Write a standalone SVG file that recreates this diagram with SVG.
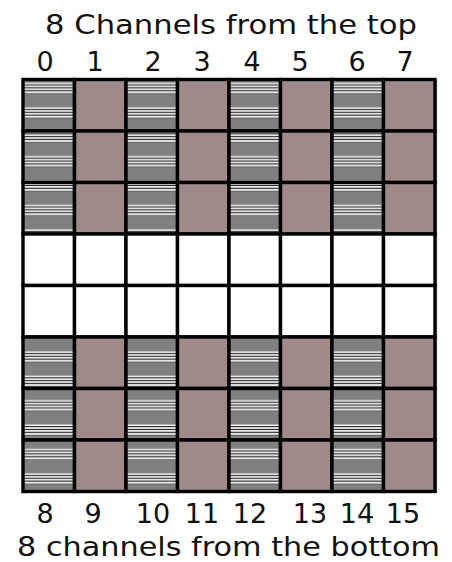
<svg xmlns="http://www.w3.org/2000/svg" width="452" height="562" viewBox="0 0 452 562">
<style>
text{font-family:"DejaVu Sans","Liberation Sans",sans-serif;fill:#111;text-anchor:middle}
.t{font-size:27px}
.n{font-size:27px}
rect.c{stroke:#000;stroke-width:3.4}
.g{fill:url(#stripes)}
.p{fill:#a08989}
.w{fill:#fff}
</style>
<defs>
<pattern id="stripes" patternUnits="userSpaceOnUse" x="0" y="82.5" width="20" height="24.4">
<rect x="0" y="0" width="20" height="24.4" fill="#808080"/>
<rect x="0" y="0" width="20" height="11" fill="#1e1e1e"/>
<rect x="0" y="0.3" width="20" height="1.7" fill="#fafafa"/>
<rect x="0" y="3.1" width="20" height="1.7" fill="#fafafa"/>
<rect x="0" y="5.9" width="20" height="1.7" fill="#fafafa"/>
<rect x="0" y="8.7" width="20" height="2" fill="#e6e6e6"/>
</pattern>
</defs>
<rect width="452" height="562" fill="#fff"/>
<text class="t" x="231" y="34" textLength="372" lengthAdjust="spacingAndGlyphs">8 Channels from the top</text>
<g id="top-labels" class="n">
<text class="n" x="45" y="71">0</text>
<text class="n" x="95" y="71">1</text>
<text class="n" x="153" y="71">2</text>
<text class="n" x="202" y="71">3</text>
<text class="n" x="252" y="71">4</text>
<text class="n" x="300" y="71">5</text>
<text class="n" x="357" y="71">6</text>
<text class="n" x="405" y="71">7</text>
</g>
<line x1="436.5" y1="80" x2="436.5" y2="493" stroke="#bbb" stroke-width="1.5"/>
<g id="grid">
<g id="row0">
<rect class="c g" x="23" y="79.5" width="51.5" height="51.5"/><rect class="c p" x="74.5" y="79.5" width="51.5" height="51.5"/><rect class="c g" x="126" y="79.5" width="51.5" height="51.5"/><rect class="c p" x="177.5" y="79.5" width="51.5" height="51.5"/><rect class="c g" x="229" y="79.5" width="51.5" height="51.5"/><rect class="c p" x="280.5" y="79.5" width="51.5" height="51.5"/><rect class="c g" x="332" y="79.5" width="51.5" height="51.5"/><rect class="c p" x="383.5" y="79.5" width="51.5" height="51.5"/>
</g>
<g id="row1">
<rect class="c g" x="23" y="131" width="51.5" height="51.5"/><rect class="c p" x="74.5" y="131" width="51.5" height="51.5"/><rect class="c g" x="126" y="131" width="51.5" height="51.5"/><rect class="c p" x="177.5" y="131" width="51.5" height="51.5"/><rect class="c g" x="229" y="131" width="51.5" height="51.5"/><rect class="c p" x="280.5" y="131" width="51.5" height="51.5"/><rect class="c g" x="332" y="131" width="51.5" height="51.5"/><rect class="c p" x="383.5" y="131" width="51.5" height="51.5"/>
</g>
<g id="row2">
<rect class="c g" x="23" y="182.5" width="51.5" height="51.5"/><rect class="c p" x="74.5" y="182.5" width="51.5" height="51.5"/><rect class="c g" x="126" y="182.5" width="51.5" height="51.5"/><rect class="c p" x="177.5" y="182.5" width="51.5" height="51.5"/><rect class="c g" x="229" y="182.5" width="51.5" height="51.5"/><rect class="c p" x="280.5" y="182.5" width="51.5" height="51.5"/><rect class="c g" x="332" y="182.5" width="51.5" height="51.5"/><rect class="c p" x="383.5" y="182.5" width="51.5" height="51.5"/>
</g>
<g id="row3">
<rect class="c w" x="23" y="234" width="51.5" height="51.5"/><rect class="c w" x="74.5" y="234" width="51.5" height="51.5"/><rect class="c w" x="126" y="234" width="51.5" height="51.5"/><rect class="c w" x="177.5" y="234" width="51.5" height="51.5"/><rect class="c w" x="229" y="234" width="51.5" height="51.5"/><rect class="c w" x="280.5" y="234" width="51.5" height="51.5"/><rect class="c w" x="332" y="234" width="51.5" height="51.5"/><rect class="c w" x="383.5" y="234" width="51.5" height="51.5"/>
</g>
<g id="row4">
<rect class="c w" x="23" y="285.5" width="51.5" height="51.5"/><rect class="c w" x="74.5" y="285.5" width="51.5" height="51.5"/><rect class="c w" x="126" y="285.5" width="51.5" height="51.5"/><rect class="c w" x="177.5" y="285.5" width="51.5" height="51.5"/><rect class="c w" x="229" y="285.5" width="51.5" height="51.5"/><rect class="c w" x="280.5" y="285.5" width="51.5" height="51.5"/><rect class="c w" x="332" y="285.5" width="51.5" height="51.5"/><rect class="c w" x="383.5" y="285.5" width="51.5" height="51.5"/>
</g>
<g id="row5">
<rect class="c g" x="23" y="337" width="51.5" height="51.5"/><rect class="c p" x="74.5" y="337" width="51.5" height="51.5"/><rect class="c g" x="126" y="337" width="51.5" height="51.5"/><rect class="c p" x="177.5" y="337" width="51.5" height="51.5"/><rect class="c g" x="229" y="337" width="51.5" height="51.5"/><rect class="c p" x="280.5" y="337" width="51.5" height="51.5"/><rect class="c g" x="332" y="337" width="51.5" height="51.5"/><rect class="c p" x="383.5" y="337" width="51.5" height="51.5"/>
</g>
<g id="row6">
<rect class="c g" x="23" y="388.5" width="51.5" height="51.5"/><rect class="c p" x="74.5" y="388.5" width="51.5" height="51.5"/><rect class="c g" x="126" y="388.5" width="51.5" height="51.5"/><rect class="c p" x="177.5" y="388.5" width="51.5" height="51.5"/><rect class="c g" x="229" y="388.5" width="51.5" height="51.5"/><rect class="c p" x="280.5" y="388.5" width="51.5" height="51.5"/><rect class="c g" x="332" y="388.5" width="51.5" height="51.5"/><rect class="c p" x="383.5" y="388.5" width="51.5" height="51.5"/>
</g>
<g id="row7">
<rect class="c g" x="23" y="440" width="51.5" height="51.5"/><rect class="c p" x="74.5" y="440" width="51.5" height="51.5"/><rect class="c g" x="126" y="440" width="51.5" height="51.5"/><rect class="c p" x="177.5" y="440" width="51.5" height="51.5"/><rect class="c g" x="229" y="440" width="51.5" height="51.5"/><rect class="c p" x="280.5" y="440" width="51.5" height="51.5"/><rect class="c g" x="332" y="440" width="51.5" height="51.5"/><rect class="c p" x="383.5" y="440" width="51.5" height="51.5"/>
</g>
</g>
<g id="bottom-labels">
<text class="n" x="45" y="523">8</text>
<text class="n" x="93" y="523">9</text>
<text class="n" x="153" y="523">10</text>
<text class="n" x="202" y="523">11</text>
<text class="n" x="250" y="523">12</text>
<text class="n" x="310" y="523">13</text>
<text class="n" x="357" y="523">14</text>
<text class="n" x="403" y="523">15</text>
</g>
<text class="t" x="228.5" y="556" textLength="423" lengthAdjust="spacingAndGlyphs">8 channels from the bottom</text>
</svg>
